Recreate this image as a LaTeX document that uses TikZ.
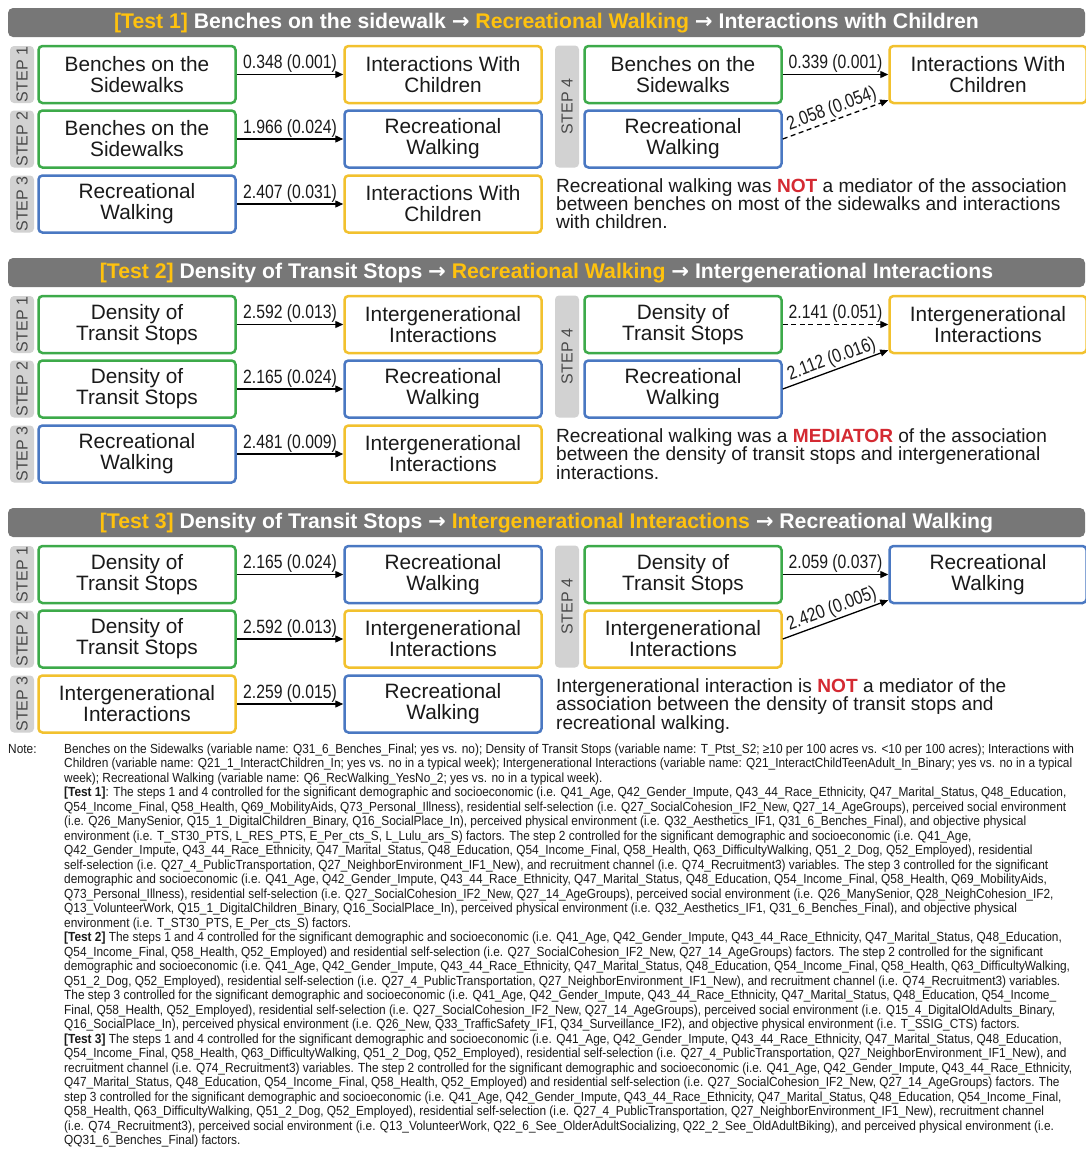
\documentclass[tikz,border=0pt]{standalone}
\usepackage{fontspec}
\setmainfont{Liberation Sans}
\newfontfamily\narrowfont[FakeStretch=0.82]{Liberation Sans}
\newfontfamily\notefontfam[FakeStretch=0.9]{Liberation Sans}
\newfontfamily\arrowfont{DejaVu Sans}
\usetikzlibrary{arrows.meta}
\definecolor{cgreen}{HTML}{3DAA4A}
\definecolor{cyellow}{HTML}{F2C12E}
\definecolor{cblue}{HTML}{4A78C2}
\definecolor{hdrgray}{HTML}{777777}
\definecolor{stepgray}{HTML}{D2D2D2}
\definecolor{steptext}{HTML}{4A4A4A}
\definecolor{hdryellow}{HTML}{FFC20E}
\definecolor{cred}{HTML}{D42A32}
\definecolor{txt}{HTML}{1A1A1A}
\tikzset{
  vbox/.style={draw, line width=2.5pt, rounded corners=4pt, minimum width=197pt, minimum height=57pt, inner sep=0pt, align=center, fill=white, text=txt, font=\fontsize{20.8}{21}\selectfont},
  gbox/.style={vbox, draw=cgreen},
  ybox/.style={vbox, draw=cyellow},
  bbox/.style={vbox, draw=cblue},
  steplbl/.style={fill=stepgray, rounded corners=4pt, rotate=90, minimum height=24pt, inner sep=0pt, text=steptext, font=\fontsize{16}{16}\selectfont},
  hdr/.style={fill=hdrgray, rounded corners=5pt, minimum width=1077pt, minimum height=29pt, inner sep=0pt, text=white, text height=14pt, text depth=3pt, font=\bfseries\fontsize{21.2}{22}\selectfont},
  arr/.style={-{Triangle[length=8pt,width=7pt]}, line width=1.3pt, black},
  dsh/.style={dash pattern=on 5pt off 3.5pt},
  lbl/.style={font=\narrowfont\fontsize{19.2}{19.2}\selectfont, inner sep=1.2pt, text=txt},
  expl/.style={anchor=north west, align=left, inner sep=0pt, text=txt, font=\fontsize{19.1}{17.6}\selectfont},
  notefont/.style={anchor=north west, align=left, inner sep=0pt, text=txt, font=\notefontfam\fontsize{13.2}{14.5}\selectfont}
}
\newcommand{\hy}[1]{\textcolor{hdryellow}{#1}}
\newcommand{\harr}{{\arrowfont\bfseries →}}
\newcommand{\rd}[1]{\textcolor{cred}{\textbf{#1}}}
\begin{document}
\begin{tikzpicture}[x=1pt,y=-1pt]
\useasboundingbox (0,0) rectangle (1085,1151);
\fill[white] (0,0) rectangle (1085,1151);

% ================= TEST 1 =================
\begin{scope}
\node[hdr] (h1) at (546.5,22.5) {\hy{[Test 1]} Benches on the sidewalk \harr\ \hy{Recreational Walking} \harr\ Interactions with Children};
\node[steplbl, minimum width=57pt] (s11) at (22,74.5) {STEP 1};
\node[steplbl, minimum width=57pt] (s12) at (22,139) {STEP 2};
\node[steplbl, minimum width=57pt] (s13) at (22,204) {STEP 3};
\node[gbox] (a11) at (137,74.5) {Benches on the\\Sidewalks};
\node[ybox] (b11) at (443,74.5) {Interactions With\\Children};
\draw[arr] (a11) -- node[lbl, above] {0.348 (0.001)} (b11);
\node[gbox] (a12) at (137,139) {Benches on the\\Sidewalks};
\node[bbox] (b12) at (443,139) {Recreational\\Walking};
\draw[arr] (a12) -- node[lbl, above] {1.966 (0.024)} (b12);
\node[bbox] (a13) at (137,204) {Recreational\\Walking};
\node[ybox] (b13) at (443,204) {Interactions With\\Children};
\draw[arr] (a13) -- node[lbl, above] {2.407 (0.031)} (b13);
\node[steplbl, minimum width=122pt] (s14) at (567,106.5) {STEP 4};
\node[gbox] (c11) at (683,74.5) {Benches on the\\Sidewalks};
\node[bbox] (c12) at (683,139) {Recreational\\Walking};
\node[ybox] (c13) at (988,74.5) {Interactions With\\Children};
\draw[arr] (c11) -- node[lbl, above] {0.339 (0.001)} (c13);
\draw[arr, dsh] (c12.east) -- node[lbl, above, sloped] {2.058 (0.054)} ([yshift=4pt]c13.south west);
\node[expl] (e1) at (556,178) {Recreational walking was \rd{NOT} a mediator of the association\\between benches on most of the sidewalks and interactions\\with children.};
\end{scope}

% ================= TEST 2 =================
\begin{scope}[yshift=-250pt]
\node[hdr] (h2) at (546.5,22.5) {\hy{[Test 2]} Density of Transit Stops \harr\ \hy{Recreational Walking} \harr\ Intergenerational Interactions};
\node[steplbl, minimum width=57pt] (s21) at (22,74.5) {STEP 1};
\node[steplbl, minimum width=57pt] (s22) at (22,139) {STEP 2};
\node[steplbl, minimum width=57pt] (s23) at (22,204) {STEP 3};
\node[gbox] (a21) at (137,74.5) {Density of\\Transit Stops};
\node[ybox] (b21) at (443,74.5) {Intergenerational\\Interactions};
\draw[arr] (a21) -- node[lbl, above] {2.592 (0.013)} (b21);
\node[gbox] (a22) at (137,139) {Density of\\Transit Stops};
\node[bbox] (b22) at (443,139) {Recreational\\Walking};
\draw[arr] (a22) -- node[lbl, above] {2.165 (0.024)} (b22);
\node[bbox] (a23) at (137,204) {Recreational\\Walking};
\node[ybox] (b23) at (443,204) {Intergenerational\\Interactions};
\draw[arr] (a23) -- node[lbl, above] {2.481 (0.009)} (b23);
\node[steplbl, minimum width=122pt] (s24) at (567,106.5) {STEP 4};
\node[gbox] (c21) at (683,74.5) {Density of\\Transit Stops};
\node[bbox] (c22) at (683,139) {Recreational\\Walking};
\node[ybox] (c23) at (988,74.5) {Intergenerational\\Interactions};
\draw[arr, dsh] (c21) -- node[lbl, above] {2.141 (0.051)} (c23);
\draw[arr] (c22.east) -- node[lbl, above, sloped] {2.112 (0.016)} ([yshift=4pt]c23.south west);
\node[expl] (e2) at (556,178) {Recreational walking was a \rd{MEDIATOR} of the association\\between the density of transit stops and intergenerational\\interactions.};
\end{scope}

% ================= TEST 3 =================
\begin{scope}[yshift=-500pt]
\node[hdr] (h3) at (546.5,22.5) {\hy{[Test 3]} Density of Transit Stops \harr\ \hy{Intergenerational Interactions} \harr\ Recreational Walking};
\node[steplbl, minimum width=57pt] (s31) at (22,74.5) {STEP 1};
\node[steplbl, minimum width=57pt] (s32) at (22,139) {STEP 2};
\node[steplbl, minimum width=57pt] (s33) at (22,204) {STEP 3};
\node[gbox] (a31) at (137,74.5) {Density of\\Transit Stops};
\node[bbox] (b31) at (443,74.5) {Recreational\\Walking};
\draw[arr] (a31) -- node[lbl, above] {2.165 (0.024)} (b31);
\node[gbox] (a32) at (137,139) {Density of\\Transit Stops};
\node[ybox] (b32) at (443,139) {Intergenerational\\Interactions};
\draw[arr] (a32) -- node[lbl, above] {2.592 (0.013)} (b32);
\node[ybox] (a33) at (137,204) {Intergenerational\\Interactions};
\node[bbox] (b33) at (443,204) {Recreational\\Walking};
\draw[arr] (a33) -- node[lbl, above] {2.259 (0.015)} (b33);
\node[steplbl, minimum width=122pt] (s34) at (567,106.5) {STEP 4};
\node[gbox] (c31) at (683,74.5) {Density of\\Transit Stops};
\node[ybox] (c32) at (683,139) {Intergenerational\\Interactions};
\node[bbox] (c33) at (988,74.5) {Recreational\\Walking};
\draw[arr] (c31) -- node[lbl, above] {2.059 (0.037)} (c33);
\draw[arr] (c32.east) -- node[lbl, above, sloped] {2.420 (0.005)} ([yshift=4pt]c33.south west);
\node[expl] (e3) at (556,178) {Intergenerational interaction is \rd{NOT} a mediator of the\\association between the density of transit stops and\\recreational walking.};
\end{scope}

% ================= NOTE =================
\node[notefont] (notehead) at (8,743) {\strut Note:};
\node[notefont] (notetext) at (64,743) {\strut Benches on the Sidewalks (variable name: Q31\_6\_Benches\_Final; yes vs. no); Density of Transit Stops (variable name: T\_Ptst\_S2; ≥10 per 100 acres vs. <10 per 100 acres); Interactions with\\
Children (variable name: Q21\_1\_InteractChildren\_In; yes vs. no in a typical week); Intergenerational Interactions (variable name: Q21\_InteractChildTeenAdult\_In\_Binary; yes vs. no in a typical\\
week); Recreational Walking (variable name: Q6\_RecWalking\_YesNo\_2; yes vs. no in a typical week).\\
\textbf{[Test 1]}: The steps 1 and 4 controlled for the significant demographic and socioeconomic (i.e. Q41\_Age, Q42\_Gender\_Impute, Q43\_44\_Race\_Ethnicity, Q47\_Marital\_Status, Q48\_Education,\\
Q54\_Income\_Final, Q58\_Health, Q69\_MobilityAids, Q73\_Personal\_Illness), residential self-selection (i.e. Q27\_SocialCohesion\_IF2\_New, Q27\_14\_AgeGroups), perceived social environment\\
(i.e. Q26\_ManySenior, Q15\_1\_DigitalChildren\_Binary, Q16\_SocialPlace\_In), perceived physical environment (i.e. Q32\_Aesthetics\_IF1, Q31\_6\_Benches\_Final), and objective physical\\
environment (i.e. T\_ST30\_PTS, L\_RES\_PTS, E\_Per\_cts\_S, L\_Lulu\_ars\_S) factors. The step 2 controlled for the significant demographic and socioeconomic (i.e. Q41\_Age,\\
Q42\_Gender\_Impute, Q43\_44\_Race\_Ethnicity, Q47\_Marital\_Status, Q48\_Education, Q54\_Income\_Final, Q58\_Health, Q63\_DifficultyWalking, Q51\_2\_Dog, Q52\_Employed), residential\\
self-selection (i.e. Q27\_4\_PublicTransportation, Q27\_NeighborEnvironment\_IF1\_New), and recruitment channel (i.e. Q74\_Recruitment3) variables. The step 3 controlled for the significant\\
demographic and socioeconomic (i.e. Q41\_Age, Q42\_Gender\_Impute, Q43\_44\_Race\_Ethnicity, Q47\_Marital\_Status, Q48\_Education, Q54\_Income\_Final, Q58\_Health, Q69\_MobilityAids,\\
Q73\_Personal\_Illness), residential self-selection (i.e. Q27\_SocialCohesion\_IF2\_New, Q27\_14\_AgeGroups), perceived social environment (i.e. Q26\_ManySenior, Q28\_NeighCohesion\_IF2,\\
Q13\_VolunteerWork, Q15\_1\_DigitalChildren\_Binary, Q16\_SocialPlace\_In), perceived physical environment (i.e. Q32\_Aesthetics\_IF1, Q31\_6\_Benches\_Final), and objective physical\\
environment (i.e. T\_ST30\_PTS, E\_Per\_cts\_S) factors.\\
\textbf{[Test 2]} The steps 1 and 4 controlled for the significant demographic and socioeconomic (i.e. Q41\_Age, Q42\_Gender\_Impute, Q43\_44\_Race\_Ethnicity, Q47\_Marital\_Status, Q48\_Education,\\
Q54\_Income\_Final, Q58\_Health, Q52\_Employed) and residential self-selection (i.e. Q27\_SocialCohesion\_IF2\_New, Q27\_14\_AgeGroups) factors. The step 2 controlled for the significant\\
demographic and socioeconomic (i.e. Q41\_Age, Q42\_Gender\_Impute, Q43\_44\_Race\_Ethnicity, Q47\_Marital\_Status, Q48\_Education, Q54\_Income\_Final, Q58\_Health, Q63\_DifficultyWalking,\\
Q51\_2\_Dog, Q52\_Employed), residential self-selection (i.e. Q27\_4\_PublicTransportation, Q27\_NeighborEnvironment\_IF1\_New), and recruitment channel (i.e. Q74\_Recruitment3) variables.\\
The step 3 controlled for the significant demographic and socioeconomic (i.e. Q41\_Age, Q42\_Gender\_Impute, Q43\_44\_Race\_Ethnicity, Q47\_Marital\_Status, Q48\_Education, Q54\_Income\_\\
Final, Q58\_Health, Q52\_Employed), residential self-selection (i.e. Q27\_SocialCohesion\_IF2\_New, Q27\_14\_AgeGroups), perceived social environment (i.e. Q15\_4\_DigitalOldAdults\_Binary,\\
Q16\_SocialPlace\_In), perceived physical environment (i.e. Q26\_New, Q33\_TrafficSafety\_IF1, Q34\_Surveillance\_IF2), and objective physical environment (i.e. T\_SSIG\_CTS) factors.\\
\textbf{[Test 3]} The steps 1 and 4 controlled for the significant demographic and socioeconomic (i.e. Q41\_Age, Q42\_Gender\_Impute, Q43\_44\_Race\_Ethnicity, Q47\_Marital\_Status, Q48\_Education,\\
Q54\_Income\_Final, Q58\_Health, Q63\_DifficultyWalking, Q51\_2\_Dog, Q52\_Employed), residential self-selection (i.e. Q27\_4\_PublicTransportation, Q27\_NeighborEnvironment\_IF1\_New), and\\
recruitment channel (i.e. Q74\_Recruitment3) variables. The step 2 controlled for the significant demographic and socioeconomic (i.e. Q41\_Age, Q42\_Gender\_Impute, Q43\_44\_Race\_Ethnicity,\\
Q47\_Marital\_Status, Q48\_Education, Q54\_Income\_Final, Q58\_Health, Q52\_Employed) and residential self-selection (i.e. Q27\_SocialCohesion\_IF2\_New, Q27\_14\_AgeGroups) factors. The\\
step 3 controlled for the significant demographic and socioeconomic (i.e. Q41\_Age, Q42\_Gender\_Impute, Q43\_44\_Race\_Ethnicity, Q47\_Marital\_Status, Q48\_Education, Q54\_Income\_Final,\\
Q58\_Health, Q63\_DifficultyWalking, Q51\_2\_Dog, Q52\_Employed), residential self-selection (i.e. Q27\_4\_PublicTransportation, Q27\_NeighborEnvironment\_IF1\_New), recruitment channel\\
(i.e. Q74\_Recruitment3), perceived social environment (i.e. Q13\_VolunteerWork, Q22\_6\_See\_OlderAdultSocializing, Q22\_2\_See\_OldAdultBiking), and perceived physical environment (i.e.\\
QQ31\_6\_Benches\_Final) factors.};
\end{tikzpicture}
\end{document}
